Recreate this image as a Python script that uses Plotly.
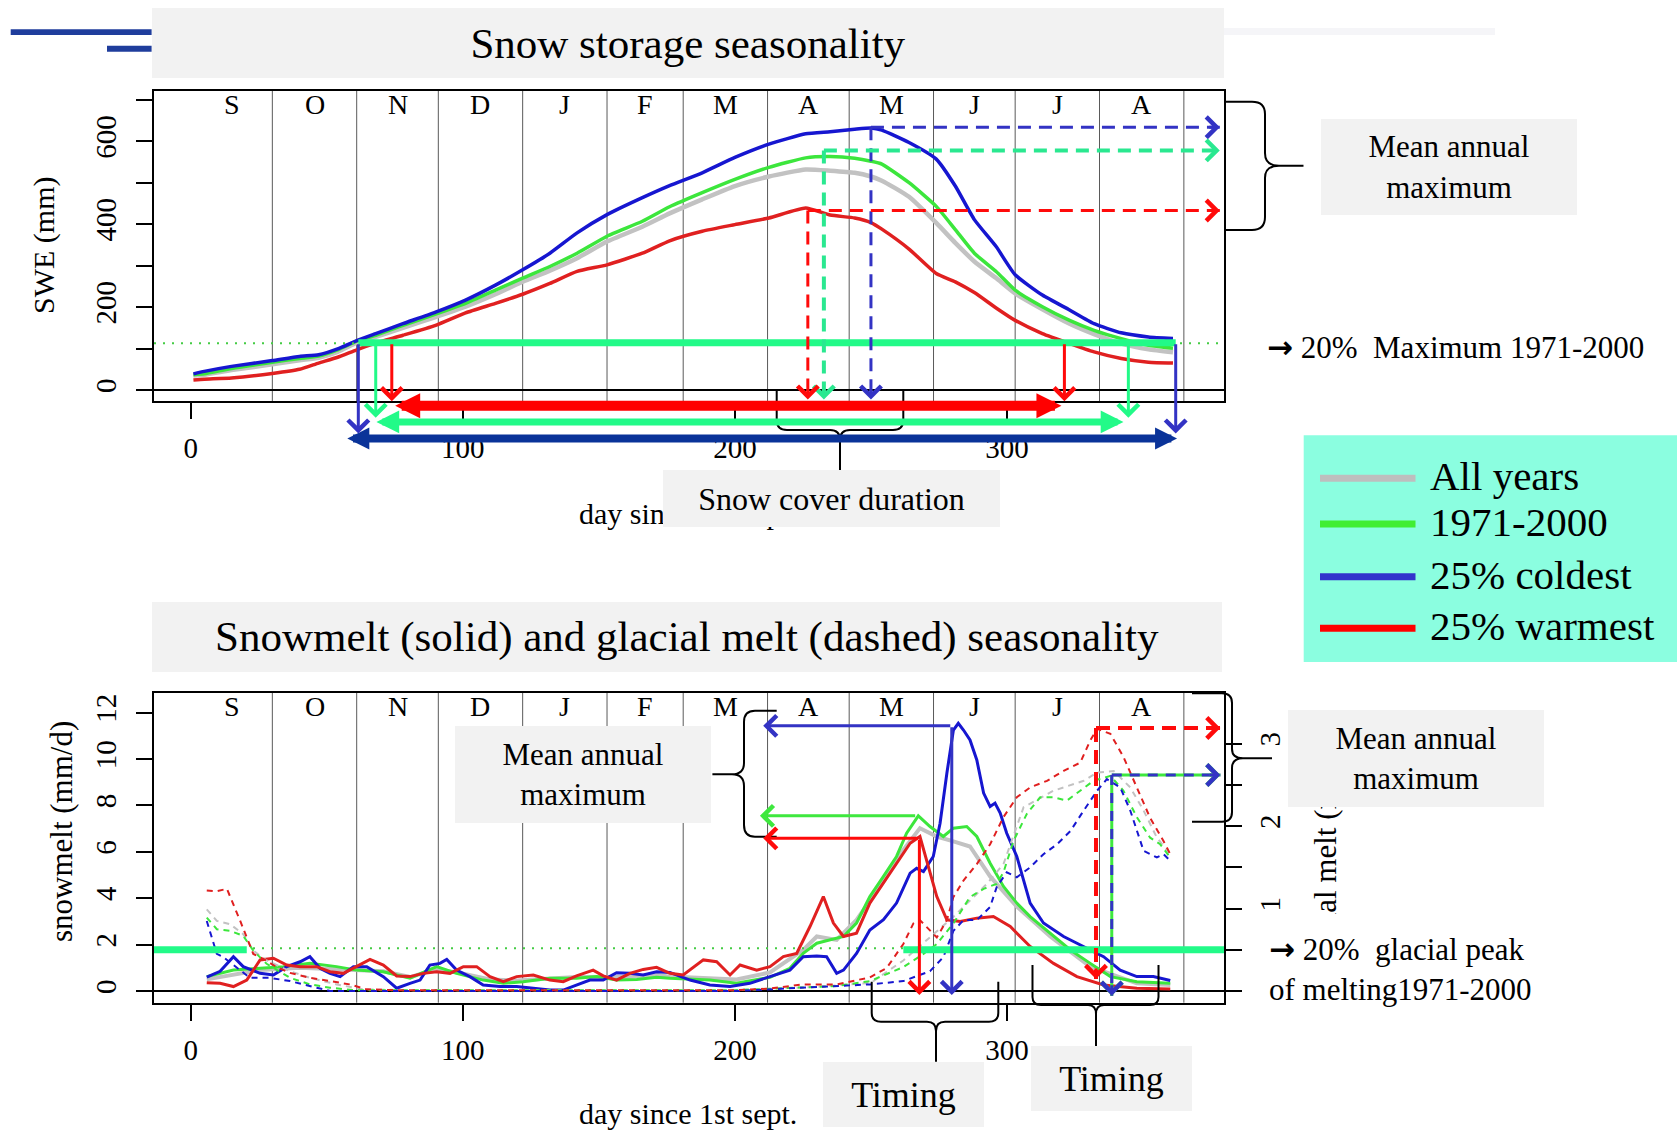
import plotly.graph_objects as go

W, H = 1677, 1130
FONT = "Liberation Serif, Times New Roman, serif"

# ------------------------------------------------------------------ data
month_letters = ["S", "O", "N", "D", "J", "F", "M", "A", "M", "J", "J", "A"]
month_bounds = [0, 30, 61, 91, 122, 153, 181, 212, 242, 273, 303, 334, 365]

series_names = ["All years", "1971-2000", "25% coldest", "25% warmest"]
curve_colors = ["#c2c2c2", "#3ce63c", "#1616d0", "#e02020"]
legend_colors = ["#bebebe", "#40ee33", "#3333cc", "#ff0000"]

x_ticks = [0, 100, 200, 300]
swe_ticks = [0, 100, 200, 300, 400, 500, 600, 700]
swe_tick_text = ["0", "", "200", "", "400", "", "600", ""]
melt_ticks = [0, 2, 4, 6, 8, 10, 12]
glac_ticks = [0, 0.5, 1, 1.5, 2, 2.5, 3]
glac_tick_text = ["", "", "1", "", "2", "", "3"]

# snow water equivalent (mm), day since 1st Sept.
swe_day = [1, 5, 15, 30, 40, 47, 54, 61, 68, 78, 90, 101, 112, 122, 132, 142, 153, 166, 176, 188,
           200, 212.5, 226, 235, 244, 250, 254, 264, 274, 281, 288, 296, 303, 313, 323, 332, 342, 352, 361]
swe_all = [35, 37, 48, 62, 72, 78, 92, 114, 128, 150, 176, 201, 231, 261, 288, 318, 358, 394, 426, 460,
           492, 515, 532, 529, 524, 515, 505, 466, 403, 355, 310, 270, 233, 195, 160, 135, 112, 98, 91]
swe_ref = [37, 39, 52, 67, 76, 82, 97, 118, 132, 156, 183, 209, 241, 270, 298, 330, 371, 407, 442, 476,
           508, 537, 560, 563, 559, 552, 545, 500, 443, 387, 330, 286, 241, 201, 168, 144, 124, 108, 101]
swe_cold = [39, 45, 57, 71, 81, 85, 99, 119, 136, 160, 188, 217, 253, 290, 330, 379, 423, 464, 493, 524,
            561, 593, 618, 623, 629, 632, 627, 597, 557, 492, 411, 346, 278, 229, 193, 160, 138, 128, 124]
swe_warm = [24, 26, 29, 40, 50, 65, 79, 97, 113, 132, 156, 186, 209, 231, 257, 286, 302, 330, 360, 383,
            399, 415, 439, 422, 415, 404, 388, 340, 281, 261, 235, 198, 168, 136, 112, 92, 76, 67, 65]

# snowmelt (mm/d)
melt_all_day = [5.9, 15.7, 25.5, 40.2, 53.6, 70.8, 80.6, 90.4, 100.2, 110.0, 119.8, 132.0, 141.8, 151.6,
                161.4, 171.2, 176.1, 200.6, 212.9, 225.1, 230.1, 237.4, 244.7, 254.6, 261.9, 268.0, 274.2,
                280.3, 286.4, 293.8, 303.6, 315.9, 330.6, 347.7, 360.0]
melt_all = [0.5, 0.7, 0.9, 1.0, 0.95, 0.85, 0.6, 0.95, 0.75, 0.5, 0.45, 0.55, 0.6, 0.6, 0.6, 0.7, 0.62,
            0.5, 0.8, 1.77, 2.35, 2.2, 3.07, 4.72, 6.08, 7.02, 6.66, 6.45, 6.23, 4.94, 3.64, 2.35, 1.05,
            0.33, 0.26]
melt_ref_day = [5.9, 15.7, 25.5, 34.0, 43.8, 53.6, 61.0, 70.8, 80.6, 90.4, 97.7, 107.5, 114.9, 122.2,
                132.0, 141.8, 149.2, 156.5, 163.9, 171.2, 176.1, 190.8, 200.6, 212.9, 220.2, 225.1, 230.1,
                234.9, 239.9, 244.7, 249.6, 254.6, 259.4, 263.1, 267.4, 271.7, 276.6, 280.3, 285.2, 288.9,
                293.8, 298.7, 303.6, 308.5, 315.9, 323.3, 330.6, 338.0, 347.7, 360.0]
melt_ref = [0.62, 0.9, 0.98, 1.05, 1.19, 1.05, 0.9, 0.83, 0.55, 1.05, 0.76, 0.47, 0.33, 0.4, 0.55, 0.55,
            0.62, 0.47, 0.5, 0.59, 0.55, 0.47, 0.33, 0.59, 0.98, 1.62, 2.06, 2.2, 2.35, 2.93, 4.07, 4.94,
            5.8, 6.8, 7.55, 7.09, 6.66, 7.02, 7.09, 6.66, 5.51, 4.51, 3.79, 3.21, 2.49, 1.77, 1.19, 0.62,
            0.4, 0.33]
melt_cold_day = [5.9, 10.8, 15.7, 19.3, 25.5, 30.4, 35.3, 40.2, 43.8, 47.5, 51.2, 54.9, 59.8, 64.7, 70.8,
                 75.7, 80.6, 84.3, 87.9, 91.6, 94.1, 97.7, 102.6, 107.5, 113.7, 119.8, 125.9, 132.0, 136.9,
                 141.8, 146.7, 151.6, 156.5, 161.4, 166.3, 171.2, 176.1, 183.5, 190.8, 198.2, 205.5, 212.9,
                 220.2, 225.1, 230.1, 233.7, 237.4, 239.9, 244.7, 249.6, 254.6, 259.4, 264.4, 266.8, 269.3,
                 272.9, 275.4, 277.9, 280.3, 282.1, 284.0, 286.4, 288.9, 291.4, 293.8, 295.6, 297.5, 299.9,
                 303.6, 308.5, 313.4, 320.8, 328.2, 335.5, 341.6, 347.7, 353.8, 360.0]
melt_cold = [0.6, 0.85, 1.48, 1.05, 0.76, 0.69, 1.05, 1.26, 1.48, 0.98, 0.76, 0.62, 1.05, 1.05, 0.62, 0.12,
             0.33, 0.47, 1.12, 1.19, 1.36, 0.9, 0.62, 0.26, 0.19, 0.19, 0.12, 0.04, 0.04, 0.26, 0.47, 0.47,
             0.79, 0.76, 0.69, 0.83, 0.8, 0.47, 0.26, 0.19, 0.33, 0.62, 0.9, 1.48, 1.51, 1.48, 0.76, 0.9,
             1.62, 2.63, 3.07, 3.79, 5.08, 5.29, 5.15, 5.8, 7.23, 9.39, 11.25, 11.54, 11.25, 10.82, 9.96,
             8.53, 7.95, 8.1, 7.67, 6.8, 5.8, 3.79, 2.93, 2.35, 1.92, 1.48, 0.9, 0.62, 0.62, 0.45]
melt_warm_day = [5.9, 10.8, 15.7, 20.6, 25.5, 30.4, 35.3, 40.2, 46.3, 51.2, 56.1, 61.0, 65.9, 70.8, 75.7,
                 80.6, 85.5, 90.4, 95.3, 100.2, 105.1, 110.0, 114.9, 119.8, 125.9, 132.0, 136.9, 141.8,
                 147.9, 151.6, 156.5, 161.4, 166.3, 171.2, 176.1, 181.0, 188.4, 193.3, 198.2, 201.9, 208.0,
                 212.9, 217.8, 222.7, 227.6, 232.5, 236.2, 239.9, 244.7, 249.6, 254.6, 259.4, 264.4, 268.0,
                 270.5, 274.2, 277.9, 282.8, 288.9, 295.0, 301.2, 308.5, 317.1, 325.7, 335.5, 347.7, 360.0]
melt_warm = [0.36, 0.33, 0.19, 0.47, 1.34, 1.41, 1.12, 1.05, 1.05, 0.83, 0.76, 1.05, 1.36, 1.12, 0.65, 0.62,
             0.76, 0.83, 0.76, 1.05, 1.05, 0.62, 0.4, 0.62, 0.69, 0.47, 0.4, 0.65, 0.9, 0.65, 0.47, 0.76,
             0.93, 1.02, 0.76, 0.69, 1.34, 1.26, 0.69, 1.12, 0.9, 1.05, 1.48, 1.62, 2.78, 4.07, 2.93, 2.35,
             2.49, 3.79, 4.65, 5.51, 6.37, 6.66, 5.65, 4.07, 3.07, 3.0, 3.14, 3.21, 2.78, 1.92, 1.19, 0.62,
             0.26, 0.12, 0.09]

# glacial melt (mm/d, right axis)
glac_all_day = [5.9, 9.6, 14.5, 19.3, 23.0, 27.9, 36.5, 43.8, 53.6, 63.4, 80, 200, 230, 250, 261.9, 280.3,
                292.6, 298.7, 306.1, 317.1, 328.2, 333.1, 339.2, 345.3, 350.2, 355.1, 360.0]
glac_all = [0.99, 0.85, 0.81, 0.69, 0.49, 0.37, 0.24, 0.16, 0.08, 0.02, 0.01, 0.01, 0.05, 0.1, 0.37, 0.9,
            1.3, 1.54, 2.23, 2.43, 2.55, 2.65, 2.67, 2.47, 2.19, 1.86, 1.66]
glac_ref_day = [5.9, 9.6, 14.5, 19.3, 23.0, 27.9, 36.5, 43.8, 51.2, 60, 200, 225.1, 237.4, 249.6, 261.9,
                269.3, 274.2, 280.3, 286.4, 291.4, 296.2, 298.7, 302.4, 307.3, 312.2, 317.1, 322.0, 326.9,
                331.8, 338.0, 342.8, 347.7, 352.6, 356.3, 360.0]
glac_ref = [0.89, 0.75, 0.73, 0.67, 0.49, 0.33, 0.16, 0.08, 0.04, 0.01, 0.01, 0.04, 0.06, 0.12, 0.29, 0.45,
            0.57, 0.82, 1.14, 1.24, 1.3, 1.44, 1.82, 2.15, 2.35, 2.35, 2.31, 2.43, 2.55, 2.61, 2.43, 2.11,
            1.86, 1.78, 1.62]
glac_cold_day = [5.9, 8.3, 9.6, 12.0, 16.9, 21.8, 29.1, 36.5, 46.3, 51.2, 200, 249.6, 261.9, 271.7, 276.6,
                 280.3, 284.0, 288.9, 293.8, 296.2, 299.9, 303.6, 308.5, 313.4, 318.4, 323.3, 328.2, 333.1,
                 336.7, 341.6, 345.3, 350.2, 355.1, 357.5, 360.0]
glac_cold = [0.85, 0.57, 0.45, 0.41, 0.29, 0.16, 0.16, 0.12, 0.04, 0.0, 0.0, 0.08, 0.12, 0.24, 0.41, 0.73,
             0.86, 0.86, 1.02, 1.26, 1.44, 1.38, 1.5, 1.66, 1.78, 1.94, 2.19, 2.43, 2.57, 2.47, 2.19, 1.7,
             1.62, 1.66, 1.58]
glac_warm_day = [5.9, 9.6, 13.3, 15.7, 18.2, 20.6, 23.0, 26.7, 31.6, 36.5, 43.8, 51.2, 58.5, 64.7, 75, 150,
                 200, 212.9, 225.1, 237.4, 249.6, 255.8, 261.9, 265.6, 268.0, 274.2, 277.9, 280.3, 284.0,
                 288.9, 293.8, 298.7, 303.6, 308.5, 314.7, 320.8, 326.9, 330.6, 333.1, 338.0, 342.8, 347.7,
                 352.6, 357.5, 360.0]
glac_warm = [1.22, 1.21, 1.24, 1.06, 0.85, 0.65, 0.45, 0.39, 0.29, 0.22, 0.16, 0.12, 0.08, 0.02, 0.01, 0.01,
             0.01, 0.03, 0.08, 0.08, 0.165, 0.28, 0.57, 0.82, 0.86, 0.65, 0.86, 1.14, 1.34, 1.54, 1.78, 2.11,
             2.35, 2.47, 2.55, 2.67, 2.77, 3.04, 3.18, 3.12, 2.84, 2.47, 2.1, 1.82, 1.66]

# annotation values (order: coldest, 1971-2000, warmest)
swe_threshold = 114
swe_dotted = 112.7
swe_onset_day = [61.6, 68.0, 73.9]
swe_end_day = [362.0, 344.6, 321.1]
swe_onset_tip = [-105, -67, -27]
swe_peak_day = [250.0, 232.7, 226.8]
swe_peak_level = [634, 578, 433]
swe_peak_tip = -23
swe_peak_arrow_end = 378.2
duration_from = [57.0, 67.7, 74.6]
duration_to = [362.5, 342.8, 320.0]
duration_level = [-117, -77, -38]

melt_peak_day = [279.7, 266.8, 267.8]
melt_peak_level = [11.43, 7.55, 6.58]
melt_arrow_left = [210.4, 209.2, 210.4]
melt_arrow_tip = -0.17

glac_threshold = 0.5
glac_dotted = 0.52
glac_bar_left_end = 20.6
glac_bar_right_start = 261.9
glac_peak_day = [338.5, 338.5, 332.7]
glac_peak_level = [2.62, 2.62, 3.19]
glac_arrow_tip = [-0.057, -0.057, 0.146]
glac_arrow_right = 378.4

# ------------------------------------------------------------------ layout helpers
def PX(x):
    return x / W


def PY(y):
    return 1 - y / H


x_dom = [PX(154), PX(1224)]
x_rng = [-13.49, 379.75]
top_dom = [PY(401), PY(90.7)]
swe_rng = [-26.5, 722]
bot_dom = [PY(1002.7), PY(692.7)]
melt_rng = [-0.505, 12.86]
glac_rng = [-0.142, 3.619]


def to_paper(v, rng, dom):
    return dom[0] + (v - rng[0]) / (rng[1] - rng[0]) * (dom[1] - dom[0])


BLUE_A = "#3333c4"
RED_A = "#ff0a0a"
SPRING = "#22fa88"
SPRING_D = "#2ae890"
LIME = "#3ee83e"
DARKBLUE = "#0a3399"

shapes = []
annotations = []


def seg(x0, y0, x1, y1, color, width, xref="paper", yref="paper", dash=None, layer="above"):
    ln = dict(color=color, width=width)
    if dash:
        ln["dash"] = dash
    shapes.append(dict(type="line", x0=x0, y0=y0, x1=x1, y1=y1, xref=xref, yref=yref,
                       line=ln, layer=layer))


def rect_px(x0, y0, x1, y1, color, layer="above", opacity=1):
    shapes.append(dict(type="rect", xref="paper", yref="paper", x0=PX(x0), x1=PX(x1),
                       y0=PY(y1), y1=PY(y0), fillcolor=color, line=dict(width=0),
                       layer=layer, opacity=opacity))


def path_px(cmds, color="black", width=2):
    parts = []
    for c in cmds:
        pts = " ".join("%.5f,%.5f" % (PX(x), PY(y)) for x, y in c[1:])
        parts.append(c[0] + pts)
    shapes.append(dict(type="path", xref="paper", yref="paper", path=" ".join(parts),
                       line=dict(color=color, width=width), layer="above"))


def arrow(x, y, ax, ay, xref, yref, color, width, head=4, size=1.33, axref=None, ayref=None,
          both=False):
    a = dict(x=x, y=y, ax=ax, ay=ay, xref=xref, yref=yref, axref=axref or xref,
             ayref=ayref or yref, text="", showarrow=True, arrowhead=head, arrowsize=size,
             arrowwidth=width, arrowcolor=color, standoff=0)
    if both:
        a.update(arrowside="end+start", startarrowhead=head, startarrowsize=size, startstandoff=0)
    annotations.append(a)


def head(x, y, dx, dy, xref, yref, color, width=3, size=1.33):
    # arrow head only, tail a few pixels back from the tip
    annotations.append(dict(x=x, y=y, ax=dx, ay=dy, xref=xref, yref=yref, axref="pixel",
                            ayref="pixel", text="", showarrow=True, arrowhead=4, arrowsize=size,
                            arrowwidth=width, arrowcolor=color, standoff=0))


def text_px(text, cx, cy, size=31, anchor="center", angle=0, bg=None, w=None, h=None, align="center"):
    a = dict(text=text, x=PX(cx), y=PY(cy), xref="paper", yref="paper", showarrow=False,
             xanchor=anchor, yanchor="middle", textangle=angle, align=align,
             font=dict(family=FONT, size=size, color="black"), borderpad=0, borderwidth=0)
    if bg:
        a["bgcolor"] = bg
    if w:
        a["width"] = w
    if h:
        a["height"] = h
    annotations.append(a)


# ------------------------------------------------------------------ figure
fig = go.Figure()

swe_series = [swe_all, swe_ref, swe_cold, swe_warm]
for name, col, vals in zip(series_names, curve_colors, swe_series):
    fig.add_trace(go.Scatter(x=swe_day, y=vals, mode="lines", name=name, xaxis="x", yaxis="y",
                             line=dict(color=col, width=4.5 if name == "All years" else 3.5,
                                       shape="spline", smoothing=0.5),
                             hoverinfo="skip", showlegend=False))

glac_series = [(glac_all_day, glac_all), (glac_ref_day, glac_ref), (glac_cold_day, glac_cold),
               (glac_warm_day, glac_warm)]
for name, col, (d, v) in zip(series_names, curve_colors, glac_series):
    fig.add_trace(go.Scatter(x=d, y=v, mode="lines", name=name + " glacial", xaxis="x2", yaxis="y3",
                             line=dict(color=col, width=2, dash="6px,5px"),
                             hoverinfo="skip", showlegend=False))

melt_series = [(melt_all_day, melt_all), (melt_ref_day, melt_ref), (melt_cold_day, melt_cold),
               (melt_warm_day, melt_warm)]
for name, col, (d, v) in zip(series_names, curve_colors, melt_series):
    fig.add_trace(go.Scatter(x=d, y=v, mode="lines", name=name + " snowmelt", xaxis="x2", yaxis="y2",
                             line=dict(color=col, width=4 if name == "All years" else 3),
                             hoverinfo="skip", showlegend=False))

# month separators and letters
for xr, yr in (("x", "y"), ("x2", "y2")):
    for b in month_bounds[1:]:
        seg(b, 0, b, 1, "#5a5a5a", 1, xref=xr, yref=yr + " domain", layer="below")
    for i, m in enumerate(month_letters):
        c = (month_bounds[i] + month_bounds[i + 1]) / 2
        annotations.append(dict(text=m, x=c, y=0.957, xref=xr, yref=yr + " domain", showarrow=False,
                                xanchor="center", yanchor="middle",
                                font=dict(family=FONT, size=28, color="black")))

# ---- top panel annotations
seg(0, swe_dotted, 1, swe_dotted, "#44cc44", 2, xref="x domain", yref="y", dash="2px,7px")
seg(swe_onset_day[0], swe_threshold, swe_end_day[0], swe_threshold, SPRING, 7, xref="x", yref="y")

peak_cols = [BLUE_A, SPRING_D, RED_A]
for i in range(3):
    c = peak_cols[i]
    wd = 4 if i == 1 else 3
    seg(swe_peak_day[i], swe_peak_level[i], swe_peak_day[i], swe_peak_tip, c, wd,
        xref="x", yref="y", dash="13px,8px")
    head(swe_peak_day[i], swe_peak_tip, 0, -12, "x", "y", c, 3)
    seg(swe_peak_day[i], swe_peak_level[i], swe_peak_arrow_end, swe_peak_level[i], c, wd,
        xref="x", yref="y", dash="13px,8px")
    head(swe_peak_arrow_end, swe_peak_level[i], -12, 0, "x", "y", c, 3)

dur_cols = [DARKBLUE, SPRING, "#ff0000"]
dur_w = [8, 7, 10]
dur_s = [0.55, 0.65, 0.5]
for i in range(3):
    yp = to_paper(duration_level[i], swe_rng, top_dom)
    arrow(duration_to[i], yp, duration_from[i], 0, "x", "paper", dur_cols[i], dur_w[i], head=2,
          size=dur_s[i], axref="x", ayref="pixel", both=True)

vert_cols = [BLUE_A, SPRING, RED_A]
for i in range(3):
    for d in (swe_onset_day[i], swe_end_day[i]):
        arrow(d, swe_onset_tip[i], d, swe_threshold, "x", "y", vert_cols[i], 3)

# ---- bottom panel annotations
seg(0, glac_dotted, 1, glac_dotted, "#44cc44", 2, xref="x2 domain", yref="y3", dash="2px,7px")
seg(x_rng[0], glac_threshold, glac_bar_left_end, glac_threshold, SPRING, 7, xref="x2", yref="y3")
seg(glac_bar_right_start, glac_threshold, x_rng[1], glac_threshold, SPRING, 7, xref="x2", yref="y3")

melt_cols = [BLUE_A, LIME, RED_A]
for i in range(3):
    arrow(melt_arrow_left[i], melt_peak_level[i], melt_peak_day[i], melt_peak_level[i], "x2", "y2",
          melt_cols[i], 3)
for i in (0, 2):
    arrow(melt_peak_day[i], melt_arrow_tip, melt_peak_day[i], melt_peak_level[i], "x2", "y2",
          melt_cols[i], 3)

# glacial maxima: warmest (red dashed), 1971-2000 (green) with coldest (blue dashed) on top
seg(glac_peak_day[2], glac_peak_level[2], glac_peak_day[2], glac_arrow_tip[2], RED_A, 4,
    xref="x2", yref="y3", dash="14px,8px")
head(glac_peak_day[2], glac_arrow_tip[2], 0, -12, "x2", "y3", RED_A, 3)
seg(glac_peak_day[2], glac_peak_level[2], glac_arrow_right, glac_peak_level[2], RED_A, 4,
    xref="x2", yref="y3", dash="14px,8px")
head(glac_arrow_right, glac_peak_level[2], -12, 0, "x2", "y3", RED_A, 3)

for c, dash in ((LIME, None), (BLUE_A, "10px,8px")):
    seg(glac_peak_day[1], glac_peak_level[1], glac_peak_day[1], glac_arrow_tip[1], c, 3,
        xref="x2", yref="y3", dash=dash)
    seg(glac_peak_day[1], glac_peak_level[1], glac_arrow_right, glac_peak_level[1], c, 3,
        xref="x2", yref="y3", dash=dash)
    head(glac_peak_day[1], glac_arrow_tip[1], 0, -12, "x2", "y3", c, 3)
    head(glac_arrow_right, glac_peak_level[1], -12, 0, "x2", "y3", c, 3)

# ---- braces
path_px([("M", (1225, 101.7)), ("L", (1252, 101.7)), ("Q", (1265, 101.7), (1265, 114)),
         ("L", (1265, 153)), ("Q", (1265, 165.7), (1279, 165.7)), ("L", (1303.5, 165.7)),
         ("M", (1279, 165.7)), ("Q", (1265, 165.7), (1265, 178)), ("L", (1265, 217)),
         ("Q", (1265, 230), (1252, 230)), ("L", (1225, 230))])
path_px([("M", (776.7, 390)), ("L", (776.7, 420)), ("Q", (776.7, 430), (787, 430)), ("L", (830, 430)),
         ("Q", (840, 430), (840, 440)), ("L", (840, 470)), ("M", (840, 440)), ("Q", (840, 430), (850, 430)),
         ("L", (893, 430)), ("Q", (903.3, 430), (903.3, 420)), ("L", (903.3, 390))])
path_px([("M", (776.7, 710.7)), ("L", (755, 710.7)), ("Q", (744, 710.7), (744, 722)), ("L", (744, 763)),
         ("Q", (744, 774.3), (732, 774.3)), ("L", (712.4, 774.3)), ("M", (732, 774.3)),
         ("Q", (744, 774.3), (744, 786)), ("L", (744, 825)), ("Q", (744, 836.7), (755, 836.7)),
         ("L", (776.7, 836.7))])
path_px([("M", (1192, 693.3)), ("L", (1222, 693.3)), ("Q", (1232, 693.3), (1232, 703)), ("L", (1232, 749)),
         ("Q", (1232, 758.3), (1243, 758.3)), ("L", (1272, 758.3)), ("M", (1243, 758.3)),
         ("Q", (1232, 758.3), (1232, 768)), ("L", (1232, 812)), ("Q", (1232, 821.7), (1222, 821.7)),
         ("L", (1192, 821.7))])
path_px([("M", (871.7, 981.7)), ("L", (871.7, 1013)), ("Q", (871.7, 1021.7), (881, 1021.7)),
         ("L", (927, 1021.7)), ("Q", (936, 1021.7), (936, 1031)), ("L", (936, 1061.7)),
         ("M", (936, 1031)), ("Q", (936, 1021.7), (945, 1021.7)), ("L", (989, 1021.7)),
         ("Q", (998.3, 1021.7), (998.3, 1013)), ("L", (998.3, 981.7))])
path_px([("M", (1032.5, 965)), ("L", (1032.5, 997)), ("Q", (1032.5, 1005), (1041, 1005)),
         ("L", (1088, 1005)), ("Q", (1096, 1005), (1096, 1014)), ("L", (1096, 1046.7)),
         ("M", (1096, 1014)), ("Q", (1096, 1005), (1104, 1005)), ("L", (1150, 1005)),
         ("Q", (1158.5, 1005), (1158.5, 997)), ("L", (1158.5, 965))])

# ---- decorations
rect_px(10.7, 29.3, 151.6, 35, "#1f3d9c")
rect_px(107, 45.7, 151.6, 51.7, "#1f3d9c")
rect_px(1224, 28, 1495, 35, "#eeeef4", opacity=0.6)

# legend
rect_px(1303.7, 435.3, 1677, 662, "#8bfee0")
legend_y = [478.3, 524, 576.7, 628.3]
for name, col, y in zip(series_names, legend_colors, legend_y):
    seg(PX(1320), PY(y), PX(1415.5), PY(y), col, 7)
    text_px(name, 1430, y - 2, size=41, anchor="left")

# axis titles
text_px("SWE (mm)", 44, 246, size=30, angle=-90)
text_px("snowmelt (mm/d)", 61, 832, size=31, angle=-90)
text_px("glacial melt (mm/d)", 1326, 850, size=31, angle=-90)
text_px("day since 1st sept.", 688, 513, size=30)
text_px("day since 1st sept.", 688, 1113, size=30)

# boxes with text
GREY = "#f2f2f2"
ARROW = "<b><span style=\"font-family:'DejaVu Sans'\">\u2192</span></b>"
text_px("Snow storage seasonality", 687.5, 43.5, size=43, bg=GREY, w=1072, h=70)
text_px("Snowmelt (solid) and glacial melt (dashed) seasonality", 686.8, 637, size=43, bg=GREY,
        w=1070, h=70)
text_px("Mean annual<br>maximum", 1448.5, 167, size=31, bg=GREY, w=256, h=96)
text_px("Snow cover duration", 831.7, 498.7, size=32, bg=GREY, w=337, h=57)
text_px("Mean annual<br>maximum", 583.3, 774.3, size=31, bg=GREY, w=256, h=97)
text_px("Mean annual<br>maximum", 1416, 758.3, size=31, bg=GREY, w=256, h=97)
text_px(" ", 1326, 950, size=10, bg="white", w=50, h=72)
text_px(ARROW + " 20%\u00a0 Maximum 1971-2000", 1267, 347, size=31, anchor="left")
text_px(ARROW + " 20%\u00a0 glacial peak<br>of melting1971-2000", 1269, 969, size=31, anchor="left",
        align="left")
text_px("Timing", 903.7, 1094.2, size=36, bg=GREY, w=161, h=65)
text_px("Timing", 1111.3, 1078.3, size=36, bg=GREY, w=161, h=65)


def axis_base():
    return dict(showline=True, linecolor="black", linewidth=2, ticks="outside", ticklen=16,
                tickwidth=1.5, tickcolor="black", showgrid=False, zeroline=False, fixedrange=True,
                tickfont=dict(family=FONT, size=29, color="black"))


fig.update_layout(
    width=W, height=H, autosize=False, margin=dict(l=0, r=0, t=0, b=0),
    paper_bgcolor="white", plot_bgcolor="white", showlegend=False,
    xaxis={**axis_base(), "domain": x_dom, "range": x_rng, "anchor": "y", "mirror": True,
           "tickvals": x_ticks, "ticklabelstandoff": 4},
    yaxis={**axis_base(), "domain": top_dom, "range": swe_rng, "anchor": "x", "mirror": True,
           "tickvals": swe_ticks, "ticktext": swe_tick_text, "tickangle": -90,
           "zeroline": True, "zerolinecolor": "black", "zerolinewidth": 2, "ticklabelstandoff": 8},
    xaxis2={**axis_base(), "domain": x_dom, "range": x_rng, "anchor": "y2", "mirror": True,
            "tickvals": x_ticks, "ticklabelstandoff": 4},
    yaxis2={**axis_base(), "domain": bot_dom, "range": melt_rng, "anchor": "x2", "mirror": True,
            "tickvals": melt_ticks, "tickangle": -90,
            "zeroline": True, "zerolinecolor": "black", "zerolinewidth": 2, "ticklabelstandoff": 8},
    yaxis3={**axis_base(), "overlaying": "y2", "side": "right", "anchor": "x2", "range": glac_rng,
            "tickvals": glac_ticks, "ticktext": glac_tick_text, "tickangle": -90,
            "ticklabelstandoff": 3},
    shapes=shapes,
    annotations=annotations,
)

fig.write_html("out.html", include_plotlyjs=True, full_html=True, config={"displayModeBar": False})
